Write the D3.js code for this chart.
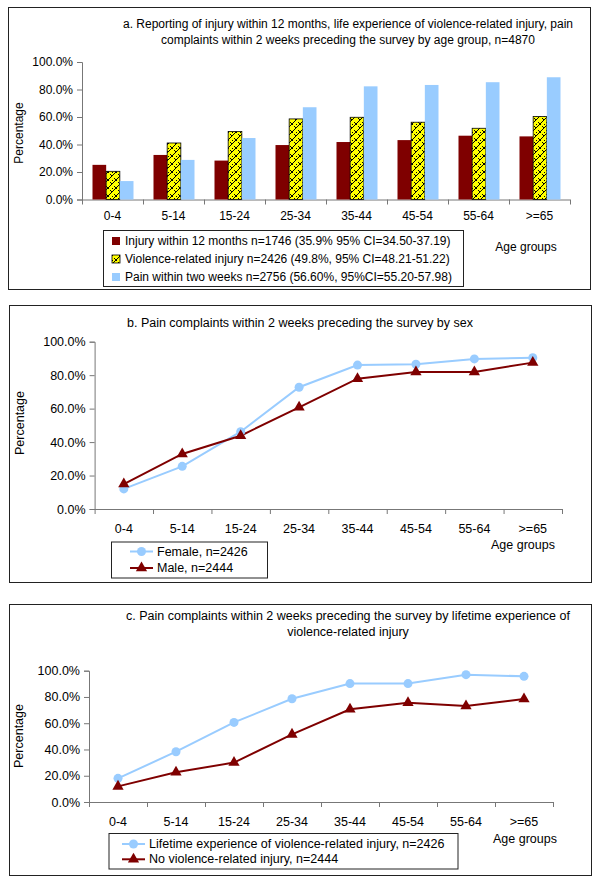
<!DOCTYPE html>
<html><head><meta charset="utf-8">
<script src="https://cdn.jsdelivr.net/npm/d3@7"></script>
<style>body{margin:0;background:#fff}svg{display:block}text{font-family:"Liberation Sans",Arial,sans-serif;fill:#000}</style>
</head><body>
<svg id="c" width="600" height="885"></svg>
<script>
// ---------- data ----------
const ageGroups = ["0-4","5-14","15-24","25-34","35-44","45-54","55-64",">=65"];
const yTicks = [0,0.2,0.4,0.6,0.8,1.0];

// panel a (bars)
const injury12m   = [25.2,32.4,28.3,39.6,41.8,43.2,46.4,45.9];
const violenceInj = [20.5,41.1,49.5,58.6,59.8,56.2,51.8,60.3];
const painTwoWks  = [13.4,28.8,44.7,67.1,82.3,83.3,85.3,88.9];
const legendA = [
  "Injury within 12 months n=1746 (35.9% 95% CI=34.50-37.19)",
  "Violence-related injury n=2426 (49.8%, 95% CI=48.21-51.22)",
  "Pain within two weeks n=2756 (56.60%, 95%CI=55.20-57.98)"
];
// panel b (by sex)
const female = [12.0,25.5,46.2,72.8,86.0,86.5,89.7,90.4];
const male   = [14.9,32.9,43.8,60.8,77.9,81.9,81.9,87.5];
const legendB = ["Female, n=2426","Male, n=2444"];
// panel c (by lifetime violence experience)
const lifetimeViol = [18.0,38.3,60.6,78.6,90.2,90.2,97.0,95.7];
const noViol       = [11.9,22.6,30.0,51.5,70.6,75.6,73.1,78.4];
const legendC = ["Lifetime experience of violence-related injury, n=2426","No violence-related injury, n=2444"];

const titleA = ["a. Reporting of injury within 12 months, life experience of violence-related injury, pain","complaints within 2 weeks preceding the survey by age group, n=4870"];
const titleB = ["b. Pain complaints within 2 weeks preceding the survey by sex"];
const titleC = ["c. Pain complaints within 2 weeks preceding the survey by lifetime experience of","violence-related injury"];

// ---------- drawing ----------
const RED = "#7f0000", BLUE = "#99ccff", YEL = "#ffff00";
const svg = d3.select("#c");
const defs = svg.append("defs");
const pat = defs.append("pattern").attr("id","weave").attr("patternUnits","userSpaceOnUse")
  .attr("width",8).attr("height",8);
pat.append("rect").attr("width",8).attr("height",8).attr("fill",YEL);
pat.append("path").attr("d","M0,8 L8,0 M-2,2 L2,-2 M6,10 L10,6 M2,2 L5,5 M6,6 L8,8 M0,4 L1,5")
  .attr("stroke","#000").attr("stroke-width",1).attr("fill","none");

const fmt = d3.format(".1%");

function frame(b){
  svg.append("rect").attr("x",b[0]+0.5).attr("y",b[1]+0.5).attr("width",b[2]-b[0]).attr("height",b[3]-b[1])
    .attr("fill","#fff").attr("stroke","#222").attr("stroke-width",1);
}
function titles(lines, cx, ys, fs){
  lines.forEach((t,i)=>svg.append("text").attr("x",cx).attr("y",ys[i]).attr("text-anchor","middle")
    .attr("dominant-baseline","central").attr("font-size",fs).text(t));
}
function axes(cfg){
  const x = d3.scaleBand().domain(ageGroups).range([cfg.x0,cfg.x1]);
  const y = d3.scaleLinear().domain([0,1]).range([cfg.y0,cfg.y1]);
  const g = svg.append("g");
  const ya = g.append("g").attr("transform",`translate(${cfg.x0},0)`)
    .call(d3.axisLeft(y).tickValues(yTicks).tickFormat(fmt).tickSize(5).tickPadding(4));
  ya.select(".domain").attr("stroke","#777");
  ya.selectAll(".tick line").attr("stroke","#777");
  ya.selectAll("text").attr("font-size",cfg.fs).attr("font-family","Liberation Sans, Arial").attr("fill","#000");
  const xa = g.append("g").attr("transform",`translate(0,${cfg.y0})`)
    .call(d3.axisBottom(x).tickSize(0).tickPadding(cfg.lblPad));
  xa.select(".domain").remove();
  xa.selectAll("text").attr("font-size",cfg.fs).attr("font-family","Liberation Sans, Arial").attr("fill","#000");
  g.append("line").attr("x1",cfg.x0).attr("x2",cfg.x1).attr("y1",cfg.y0+0.5).attr("y2",cfg.y0+0.5).attr("stroke","#777");
  const bounds = ageGroups.map(d=>x(d)).concat([cfg.x1]);
  g.selectAll(".bt").data(bounds).enter().append("line")
    .attr("x1",d=>d+0.5).attr("x2",d=>d+0.5).attr("y1",cfg.y0).attr("y2",cfg.y0+5).attr("stroke","#777");
  svg.append("text").attr("transform",`translate(${cfg.pctX},${cfg.pctY}) rotate(-90)`)
    .attr("text-anchor","middle").attr("dominant-baseline","central").attr("font-size",cfg.fs).text("Percentage");
  svg.append("text").attr("x",cfg.agX).attr("y",cfg.agY).attr("text-anchor","middle")
    .attr("dominant-baseline","central").attr("font-size",cfg.fs).text("Age groups");
  return {x,y};
}

// ---- Panel a ----
frame([8,7,590,289]);
titles(titleA,348,[24,40],12);
const cA = {x0:82,x1:570,y0:199.5,y1:62,fs:12,lblPad:12,pctX:19,pctY:133,agX:526,agY:247};
const sA = axes(cA);
const seriesA = [
  {vals:injury12m, fill:RED, stroke:"none"},
  {vals:violenceInj, fill:"url(#weave)", stroke:"#000"},
  {vals:painTwoWks, fill:BLUE, stroke:"none"}
];
const bw = sA.x.bandwidth();
const x1 = d3.scaleBand().domain([0,1,2]).range([10.5, bw-9.5]);
seriesA.forEach((s,si)=>{
  svg.append("g").selectAll("rect").data(s.vals).enter().append("rect")
    .attr("x",(d,i)=>sA.x(ageGroups[i])+x1(si))
    .attr("y",d=>sA.y(d/100))
    .attr("width",x1.bandwidth())
    .attr("height",d=>sA.y(0)-sA.y(d/100))
    .attr("fill",s.fill).attr("stroke",s.stroke).attr("stroke-width",0.8);
});
// legend a
svg.append("rect").attr("x",103.5).attr("y",230.5).attr("width",360).attr("height",56).attr("fill","#fff").attr("stroke","#222");
const legFills=[RED,"url(#weave)",BLUE], legStroke=["none","#000","none"];
legendA.forEach((t,i)=>{
  const yy=241+i*18;
  svg.append("rect").attr("x",112).attr("y",yy-4).attr("width",8).attr("height",8)
    .attr("fill",legFills[i]).attr("stroke",legStroke[i]).attr("stroke-width",0.8);
  svg.append("text").attr("x",125).attr("y",yy).attr("dominant-baseline","central").attr("font-size",12).text(t);
});

// ---- line panels ----
function linePanel(cfg, s1, s2, legend){
  const s = axes(cfg);
  const cx = d=>s.x(d)+s.x.bandwidth()/2;
  const line = d3.line().x((d,i)=>cx(ageGroups[i])).y(d=>s.y(d/100));
  svg.append("path").attr("d",line(s1)).attr("fill","none").attr("stroke",BLUE).attr("stroke-width",2);
  svg.append("path").attr("d",line(s2)).attr("fill","none").attr("stroke",RED).attr("stroke-width",2);
  svg.append("g").selectAll("circle").data(s1).enter().append("circle")
    .attr("cx",(d,i)=>cx(ageGroups[i])).attr("cy",d=>s.y(d/100)).attr("r",4.5).attr("fill",BLUE);
  const tri = d3.symbol().type(d3.symbolTriangle).size(55);
  svg.append("g").selectAll("path").data(s2).enter().append("path")
    .attr("d",tri).attr("transform",(d,i)=>`translate(${cx(ageGroups[i])},${s.y(d/100)})`).attr("fill",RED);
  // legend
  const L=cfg.leg;
  svg.append("rect").attr("x",L.x+0.5).attr("y",L.y+0.5).attr("width",L.w).attr("height",L.h).attr("fill","#fff").attr("stroke","#222");
  [BLUE,RED].forEach((c,i)=>{
    const yy=L.ys[i];
    svg.append("line").attr("x1",L.lx0).attr("x2",L.lx1).attr("y1",yy).attr("y2",yy).attr("stroke",c).attr("stroke-width",2);
    const mx=(L.lx0+L.lx1)/2;
    if(i===0) svg.append("circle").attr("cx",mx).attr("cy",yy).attr("r",4.5).attr("fill",c);
    else svg.append("path").attr("d",tri).attr("transform",`translate(${mx},${yy})`).attr("fill",c);
    svg.append("text").attr("x",L.tx).attr("y",yy).attr("dominant-baseline","central").attr("font-size",cfg.fs).text(legend[i]);
  });
}

frame([9,305,591,582]);
titles(titleB,300,[323],12.5);
linePanel({x0:94.6,x1:562,y0:509,y1:341.7,fs:12.5,lblPad:15,pctX:20,pctY:423,agX:523,agY:545,
  leg:{x:111,y:541.5,w:156,h:36,ys:[551.5,568],lx0:130,lx1:153,tx:157}}, female, male, legendB);

frame([9,604,591,875]);
titles(titleC,348,[615.7,631.7],12.5);
linePanel({x0:89,x1:553,y0:802,y1:670.7,fs:12.5,lblPad:15,pctX:19,pctY:736,agX:525,agY:839,
  leg:{x:108.5,y:833,w:349,h:35.5,ys:[844,859.3],lx0:122,lx1:145,tx:149}}, lifetimeViol, noViol, legendC);
</script>
</body></html>
